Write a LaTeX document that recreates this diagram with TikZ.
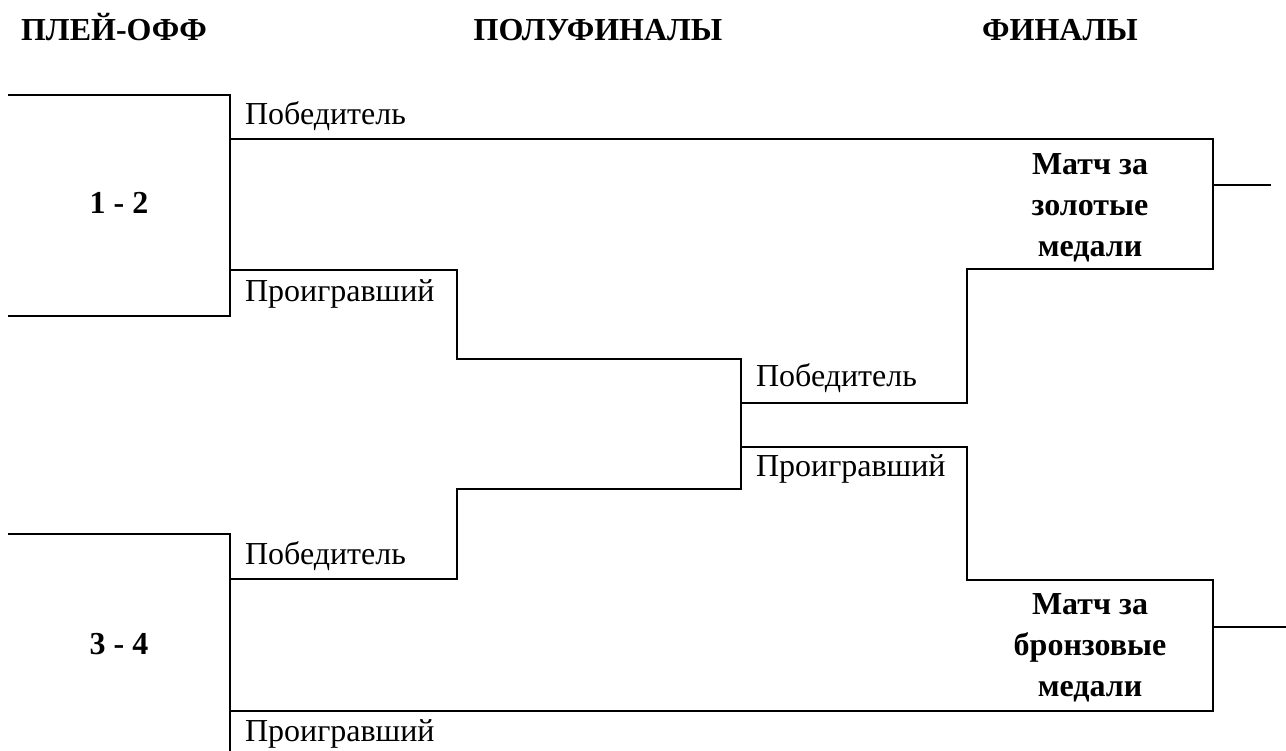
\documentclass[tikz,border=0pt]{standalone}
\usepackage{fontspec}
\setmainfont{Liberation Serif}
\begin{document}
\begin{tikzpicture}[x=0.375pt,y=-0.375pt,line width=0.8pt,
        every node/.style={inner sep=0pt,font=\fontsize{12}{15.4}\selectfont},
        head/.style={anchor=base,font=\fontsize{12}{15.4}\selectfont\bfseries},
        slot/.style={anchor=base west},
        pair/.style={anchor=base,font=\fontsize{12}{15.4}\selectfont\bfseries},
        final/.style={anchor=north,align=center,font=\fontsize{12}{15.4}\selectfont\bfseries}]
        \useasboundingbox (0,0) rectangle (1286,751);
        %% Headings
        \node[head] (hplay) at (114,41)  {ПЛЕЙ-ОФФ};
        \node[head] (hsemi) at (598,41)  {ПОЛУФИНАЛЫ};
        \node[head] (hfin)  at (1060,41) {ФИНАЛЫ};
        %% Corners of the bracket
        \coordinate (a1) at (8,95);    \coordinate (a2) at (230,95);
        \coordinate (a3) at (230,316); \coordinate (a4) at (8,316);
        \coordinate (c1) at (8,534);   \coordinate (c2) at (230,534);
        \coordinate (c3) at (230,751);
        \coordinate (w1) at (230,139); \coordinate (l1) at (230,270);
        \coordinate (l2) at (457,270); \coordinate (s1) at (457,359);
        \coordinate (s2) at (741,359); \coordinate (s3) at (741,489);
        \coordinate (s4) at (457,489); \coordinate (b2) at (457,579);
        \coordinate (b1) at (230,579); \coordinate (l3) at (230,711);
        \coordinate (sw1) at (741,403); \coordinate (sw2) at (967,403);
        \coordinate (sw3) at (967,269); \coordinate (sl1) at (741,447);
        \coordinate (sl2) at (967,447); \coordinate (sl3) at (967,580);
        \coordinate (g1) at (1213,139); \coordinate (g2) at (1213,269);
        \coordinate (z1) at (1213,711); \coordinate (z2) at (1213,580);
        \coordinate (go1) at (1213,185); \coordinate (go2) at (1271,185);
        \coordinate (zo1) at (1213,627); \coordinate (zo2) at (1286,627);
        %% Lines
        \draw (a1) -- (a2) -- (a3) -- (a4);
        \draw (c1) -- (c2) -- (c3);
        \draw (w1) -- (g1) -- (g2) -- (sw3) -- (sw2) -- (sw1);
        \draw (l1) -- (l2) -- (s1) -- (s2) -- (s3) -- (s4) -- (b2) -- (b1);
        \draw (l3) -- (z1) -- (z2) -- (sl3) -- (sl2) -- (sl1);
        \draw (go1) -- (go2);
        \draw (zo1) -- (zo2);
        %% Labels
        \node[pair] (p12) at (119,214) {1 - 2};
        \node[pair] (p34) at (119,655) {3 - 4};
        \node[slot] (win12) at (244,125) {Победитель};
        \node[slot] (los12) at (244,302) {Проигравший};
        \node[slot] (winsf) at (755,387) {Победитель};
        \node[slot] (lossf) at (755,477) {Проигравший};
        \node[slot] (win34) at (244,565) {Победитель};
        \node[slot] (los34) at (244,742) {Проигравший};
        \node[final] (gold)   at (1090,152) {Матч за\\золотые\\медали};
        \node[final] (bronze) at (1090,592) {Матч за\\бронзовые\\медали};
\end{tikzpicture}
\end{document}
